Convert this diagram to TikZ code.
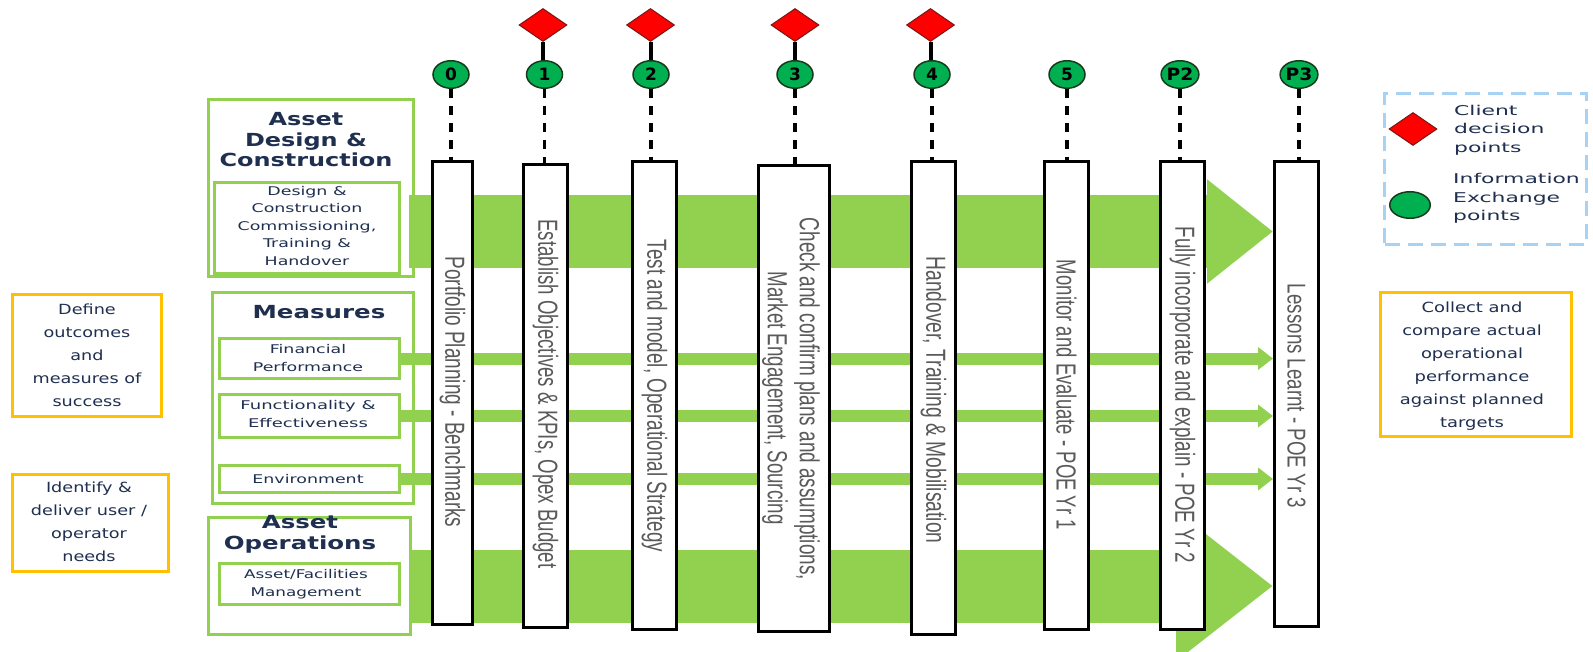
\documentclass[tikz,border=0pt]{standalone}
\usepackage{fontspec}
\setmainfont{DejaVu Sans}
\newfontfamily\arialf{Liberation Sans}
\usepackage{graphicx}
\usetikzlibrary{shapes.geometric,arrows.meta}
\definecolor{lgreen}{HTML}{92D050}
\definecolor{orng}{HTML}{FFC000}
\definecolor{dgreen}{HTML}{00B050}
\definecolor{navy}{HTML}{1F2F50}
\definecolor{vgray}{HTML}{5A5A5A}
\definecolor{lblue}{HTML}{A7D2F4}
\definecolor{dred}{HTML}{7A1515}
\definecolor{cedge}{HTML}{173A1E}
\newcommand{\stk}[3]{\scalebox{#1}[1]{\begin{tabular}{@{}#2@{}}#3\end{tabular}}}
\newcommand{\vtx}[3]{\resizebox{#1pt}{#2pt}{\arialf #3}}
\tikzset{
  gbox/.style={draw=lgreen, line width=3pt, inner sep=0pt},
  obox/.style={draw=orng, line width=3pt, inner sep=0pt},
  stagebox/.style={draw=black, line width=3.5pt, fill=white, inner sep=0pt},
  vlab/.style={rotate=-90, inner sep=0pt, text=vgray},
  titletxt/.style={font=\fontsize{18}{20.5}\selectfont\bfseries, text=navy, inner sep=0pt},
  smalltxt/.style={font=\fontsize{12}{17.5}\selectfont, text=navy, inner sep=0pt},
  sidetxt/.style={font=\fontsize{14}{23}\selectfont, text=navy, inner sep=0pt},
  legtxt/.style={font=\fontsize{13.5}{18.5}\selectfont, text=navy, inner sep=0pt, anchor=west},
  info/.style={ellipse, draw=cedge, line width=1.5pt, fill=dgreen, minimum width=36pt, minimum height=27.5pt, inner sep=0pt, font=\fontsize{17}{17}\selectfont\bfseries},
  decide/.style={diamond, draw=dred, line width=1pt, fill=red, minimum width=48pt, minimum height=33pt, inner sep=0pt},
  dashlink/.style={line width=3.5pt, dash pattern=on 9pt off 8pt},
  solidlink/.style={line width=4pt},
  bigflow/.style={draw=lgreen, line width=73pt},
  thinflow/.style={draw=lgreen, line width=12pt, -{Triangle[length=15pt,width=22pt]}}
}
\begin{document}
\begin{tikzpicture}[x=1pt,y=-1pt]
\useasboundingbox (0,0) rectangle (1593,652);
\fill[white] (0,0) rectangle (1593,652);
\clip (0,0) rectangle (1593,652);

% left green groups
\node[gbox, minimum width=205pt, minimum height=177pt] (adc) at (311,188) {};
\node[gbox, minimum width=185pt, minimum height=91pt] (dci) at (307,228) {};
\node[gbox, minimum width=201pt, minimum height=211pt] (meas) at (313,398) {};
\node[gbox, minimum width=180pt, minimum height=40pt] (fin) at (309.5,358.5) {};
\node[gbox, minimum width=180pt, minimum height=43pt] (func) at (309.5,416) {};
\node[gbox, minimum width=180pt, minimum height=27pt] (env) at (309.5,479) {};
\node[gbox, minimum width=202pt, minimum height=117pt] (aop) at (309.5,576) {};
\node[gbox, minimum width=180pt, minimum height=41pt] (afm) at (309.5,584) {};

\node[titletxt] (tadc) at (306,142) {\stk{1.33}{c}{Asset\\Design \&\\Construction}};
\node[smalltxt] (tdci) at (307,227) {\stk{1.45}{c}{Design \&\\Construction\\Commissioning,\\Training \&\\Handover}};
\node[titletxt] (tmeas) at (319,314) {\stk{1.36}{c}{Measures}};
\node[smalltxt] (tfin) at (308,359) {\stk{1.45}{c}{Financial\\Performance}};
\node[smalltxt] (tfunc) at (308,415) {\stk{1.5}{c}{Functionality \&\\Effectiveness}};
\node[smalltxt] (tenv) at (308,480) {\stk{1.45}{c}{Environment}};
\node[titletxt] (taop) at (300,535) {\stk{1.36}{c}{Asset\\Operations}};
\node[smalltxt] (tafm) at (306,584) {\stk{1.4}{c}{Asset/Facilities\\Management}};

% orange side boxes
\node[obox, minimum width=149pt, minimum height=122pt] (def) at (87,355.5) {};
\node[sidetxt] (tdef) at (87,356) {\stk{1.26}{c}{Define\\outcomes\\and\\measures of\\success}};
\node[obox, minimum width=156pt, minimum height=97pt] (idn) at (90.5,523) {};
\node[sidetxt] (tidn) at (89,522) {\stk{1.26}{c}{Identify \&\\deliver user /\\operator\\needs}};
\node[obox, minimum width=191pt, minimum height=144pt] (col) at (1476,364.5) {};
\node[sidetxt] (tcol) at (1472,365) {\stk{1.28}{c}{Collect and\\compare actual\\operational\\performance\\against planned\\targets}};

% legend
\node[draw=lblue, line width=2.5pt, dash pattern=on 15pt off 8pt, minimum width=202pt, minimum height=151pt, inner sep=0pt] (leg) at (1485.5,169) {};
\node[decide] (ld) at (1413,129) {};
\node[info, minimum width=40.5pt, minimum height=26.5pt] (lc) at (1410,205) {};
\node[legtxt] (tld) at (1454,130) {\stk{1.62}{l}{Client\\decision\\points}};
\node[legtxt] (tlc) at (1453,198.5) {\stk{1.62}{l}{Information\\Exchange\\points}};

% anchor for the last stage (needed by flows); drawn again on top below
\coordinate (ftop) at (409,231.5);
\coordinate (fbot) at (412,586);
\coordinate (endx) at (1273,0);

% flows
\draw[bigflow, -{Triangle[length=66pt,width=100pt]}] (ftop) -- (ftop -| endx);
\draw[bigflow, -{Triangle[length=97pt,width=144pt]}] (fbot) -- (fbot -| endx);
\draw[thinflow] (fin.east) -- (fin.east -| endx);
\draw[thinflow] (func.east) -- (func.east -| endx);
\draw[thinflow] (env.east) -- (env.east -| endx);

% stage boxes
\node[stagebox, minimum width=40pt, minimum height=463pt] (b0) at (452.5,393) {};
\node[stagebox, minimum width=44pt, minimum height=463pt] (b1) at (545.5,396) {};
\node[stagebox, minimum width=44pt, minimum height=468pt] (b2) at (654.5,395.5) {};
\node[stagebox, minimum width=71pt, minimum height=466pt] (b3) at (794,398.5) {};
\node[stagebox, minimum width=44pt, minimum height=473pt] (b4) at (933.5,398) {};
\node[stagebox, minimum width=44pt, minimum height=468pt] (b5) at (1066.5,395.5) {};
\node[stagebox, minimum width=44pt, minimum height=468pt] (b6) at (1182.5,395.5) {};
\node[stagebox, minimum width=44pt, minimum height=465pt] (b7) at (1296.5,394) {};

% info points and decision points
\node[info] (c0) at (451,74.5) {0};
\node[info] (c1) at (544.5,74.5) {1};
\node[info] (c2) at (651,74.5) {2};
\node[info] (c3) at (795,74.5) {3};
\node[info] (c4) at (932,74.5) {4};
\node[info] (c5) at (1067,74.5) {5};
\node[info] (c6) at (1180,74.5) {\scalebox{1.1}[1]{P2}};
\node[info] (c7) at (1299,74.5) {\scalebox{1.1}[1]{P3}};
\node[decide] (d1) at (543,25) {};
\node[decide] (d2) at (650.5,25) {};
\node[decide] (d3) at (795,25) {};
\node[decide] (d4) at (930.5,25) {};

\foreach \i in {0,...,7} {\draw[dashlink] (c\i.south) -- (c\i.south |- b\i.north);}
\foreach \i in {1,...,4} {\draw[solidlink] (d\i.south) -- (d\i.south |- c\i.north);}

% vertical labels
\node[vlab] (v0) at (452.5,392) {\vtx{271}{20}{Portfolio Planning - Benchmarks}};
\node[vlab] (v1) at (545.5,394) {\vtx{349}{20}{Establish Objectives \& KPIs, Opex Budget}};
\node[vlab] (v2) at (654.5,396) {\vtx{312}{20}{Test and model, Operational Strategy}};
\node[vlab] (v3a) at (807,399) {\vtx{362}{20}{Check and confirm plans and assumptions,}};
\node[vlab] (v3b) at (775,398) {\vtx{253}{20}{Market Engagement, Sourcing}};
\node[vlab] (v4) at (933.5,400) {\vtx{287}{20}{Handover, Training \& Mobilisation}};
\node[vlab] (v5) at (1066.5,395) {\vtx{270}{20}{Monitor and Evaluate - POE Yr 1}};
\node[vlab] (v6) at (1182.5,395) {\vtx{336}{20}{Fully incorporate and explain - POE Yr 2}};
\node[vlab] (v7) at (1296.5,396) {\vtx{224}{18}{Lessons Learnt - POE Yr 3}};
\end{tikzpicture}
\end{document}
